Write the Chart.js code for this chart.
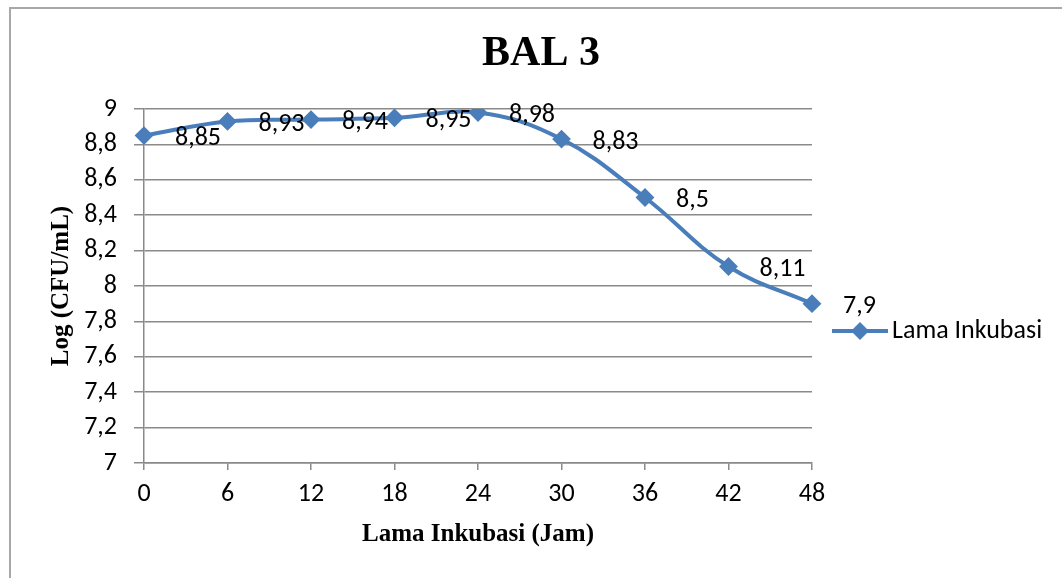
<!DOCTYPE html>
<html>
<head>
<meta charset="utf-8">
<script src="https://cdn.jsdelivr.net/npm/chart.js@4"></script>
<style>
  body { margin: 0; background: #fff; }
  #wrap { position: relative; width: 1062px; height: 578px; overflow: hidden; }
  #frame { position: absolute; left: 9px; top: 7px; width: 1120px; height: 640px; border: 2px solid #a8a8a8; }
  canvas { position: absolute; left: 0; top: 0; }
</style>
</head>
<body>
<div id="wrap">
  <div id="frame"></div>
  <canvas id="myChart" width="1062" height="578"></canvas>
</div>
<script>
        // data
        const hours = ['0', '6', '12', '18', '24', '30', '36', '42', '48'];
        const logCfu = [8.85, 8.93, 8.94, 8.95, 8.98, 8.83, 8.5, 8.11, 7.9];
        const seriesName = 'Lama Inkubasi';
        const chartTitle = 'BAL 3';
        const xTitle = 'Lama Inkubasi (Jam)';
        const yTitle = 'Log (CFU/mL)';

        const blue = '#4a7ebb';
        const gridColor = '#8a8a8a';
        const tickFont = { family: 'Carlito, Lato, sans-serif', size: 26 };

        // comma as decimal separator
        function fmt(v) {
            return String(Math.round(v * 100) / 100).replace('.', ',');
        }

        // labels next to every point
        const pointLabels = {
            id: 'pointLabels',
            afterDatasetsDraw(chart) {
                const ctx = chart.ctx;
                const meta = chart.getDatasetMeta(0);
                ctx.save();
                ctx.font = '26px Carlito, Lato, sans-serif';
                ctx.fillStyle = '#000';
                ctx.textAlign = 'left';
                ctx.textBaseline = 'middle';
                meta.data.forEach((pt, i) => {
                    ctx.fillText(fmt(chart.data.datasets[0].data[i]), pt.x + 31, pt.y + 3);
                });
                ctx.restore();
            }
        };

        // chart title (centred on the whole frame, not the plot) and legend on the right
        const sideLegend = {
            id: 'sideLegend',
            afterDraw(chart) {
                const ctx = chart.ctx;
                ctx.save();
                ctx.fillStyle = '#000';
                ctx.font = 'bold 42px Liberation Serif, serif';
                ctx.textAlign = 'center';
                ctx.textBaseline = 'middle';
                ctx.fillText(chartTitle, 541, 54);

                const y = 331;
                ctx.strokeStyle = blue;
                ctx.lineWidth = 4;
                ctx.beginPath();
                ctx.moveTo(832, y);
                ctx.lineTo(888, y);
                ctx.stroke();
                ctx.fillStyle = blue;
                ctx.beginPath();
                ctx.moveTo(860 - 9, y);
                ctx.lineTo(860, y - 9);
                ctx.lineTo(860 + 9, y);
                ctx.lineTo(860, y + 9);
                ctx.closePath();
                ctx.fill();
                ctx.fillStyle = '#000';
                ctx.font = '26px Carlito, Lato, sans-serif';
                ctx.textAlign = 'left';
                ctx.fillText(seriesName, 892, y);
                ctx.restore();
            }
        };

        var ctx = document.getElementById('myChart').getContext('2d');
        var myChart = new Chart(ctx, {
            type: 'line',
            data: {
                labels: hours,
                datasets: [{
                    label: seriesName,
                    data: logCfu,
                    borderColor: blue,
                    backgroundColor: blue,
                    borderWidth: 4,
                    tension: 0.4,
                    pointStyle: 'rectRot',
                    pointRadius: 8,
                    pointBorderWidth: 2,
                    pointBackgroundColor: blue,
                    pointBorderColor: blue
                }]
            },
            options: {
                responsive: false,
                animation: false,
                layout: { padding: { left: 20, right: 250, top: 109, bottom: 0 } },
                scales: {
                    x: {
                        offset: false,
                        afterFit: s => { s.height = 115; },
                        grid: { drawOnChartArea: false, drawTicks: true, tickLength: 7, color: gridColor, lineWidth: 1.5 },
                        border: { color: gridColor, width: 1.5 },
                        ticks: { color: '#000', font: tickFont, padding: 9, maxRotation: 0 },
                        title: {
                            display: true, text: xTitle, color: '#000',
                            font: { family: 'Liberation Serif, serif', size: 25, weight: 'bold' },
                            padding: { top: 0, bottom: 28 }
                        }
                    },
                    y: {
                        min: 7,
                        max: 9,
                        afterFit: s => { s.width = 124; },
                        grid: { color: gridColor, lineWidth: 1.5, tickLength: 10 },
                        border: { color: gridColor, width: 1.5 },
                        ticks: { stepSize: 0.2, color: '#000', font: tickFont, padding: 17, callback: v => fmt(v) },
                        title: {
                            display: true, text: yTitle, color: '#000',
                            font: { family: 'Liberation Serif, serif', size: 25, weight: 'bold' },
                            padding: { top: 27, bottom: 0 }
                        }
                    }
                },
                plugins: {
                    legend: { display: false },
                    tooltip: { enabled: false },
                    title: { display: false }
                }
            },
            plugins: [pointLabels, sideLegend]
        });
</script>
</body>
</html>
